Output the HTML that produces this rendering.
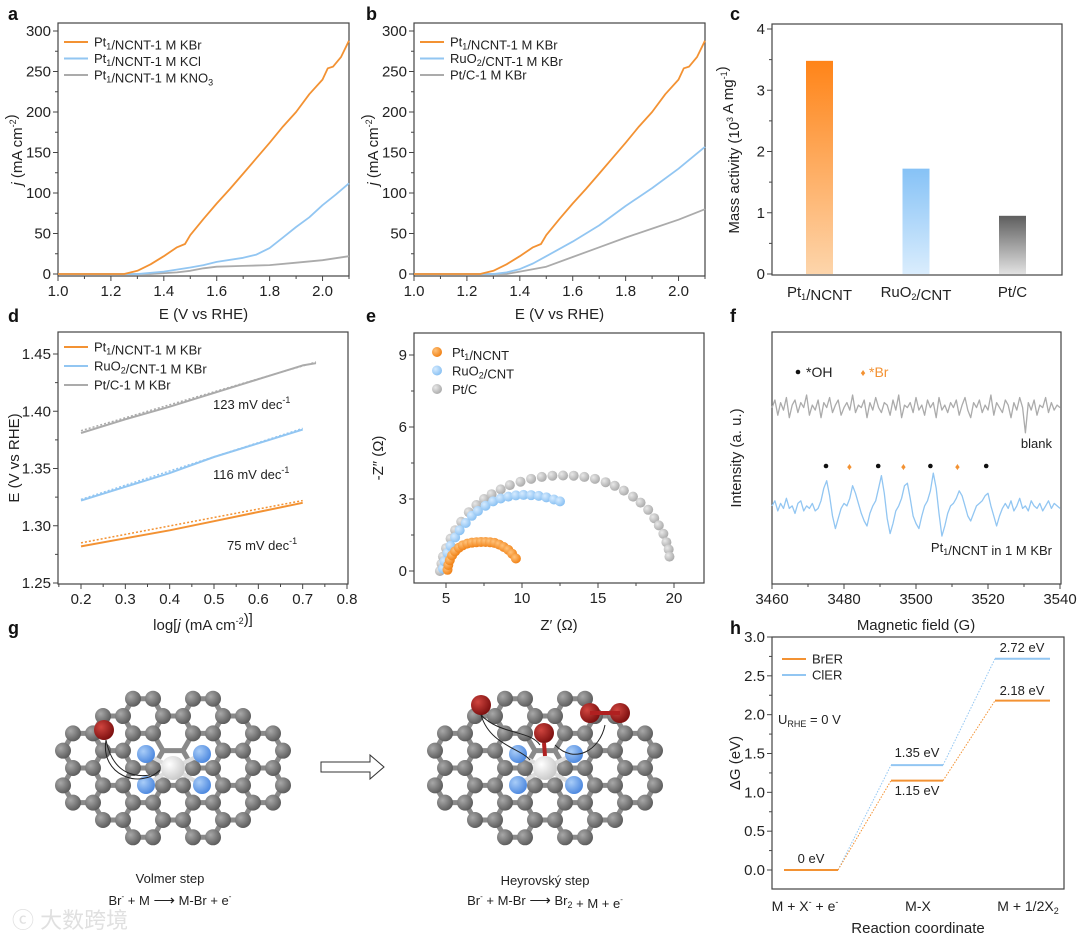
<!DOCTYPE html>
<html><head><meta charset="utf-8"><style>
html,body{margin:0;padding:0;background:#fff}
svg{display:block;font-family:"Liberation Sans","Noto Sans CJK SC",sans-serif}
</style></head><body>
<svg id="fig" width="1080" height="937" viewBox="0 0 1080 937" xmlns="http://www.w3.org/2000/svg">
<defs>
<linearGradient id="gO" x1="0" y1="0" x2="0" y2="1"><stop offset="0" stop-color="#ff8418"/><stop offset="1" stop-color="#fdd5ab"/></linearGradient>
<linearGradient id="gB" x1="0" y1="0" x2="0" y2="1"><stop offset="0" stop-color="#86c2f6"/><stop offset="1" stop-color="#daedfd"/></linearGradient>
<linearGradient id="gG" x1="0" y1="0" x2="0" y2="1"><stop offset="0" stop-color="#5e5e5e"/><stop offset="1" stop-color="#e2e2e2"/></linearGradient>
<radialGradient id="aC" cx="0.35" cy="0.35" r="0.7"><stop offset="0" stop-color="#a8a8a8"/><stop offset="1" stop-color="#5a5a5a"/></radialGradient>
<radialGradient id="aN" cx="0.35" cy="0.35" r="0.7"><stop offset="0" stop-color="#a9cdf8"/><stop offset="1" stop-color="#4a86de"/></radialGradient>
<radialGradient id="aR" cx="0.35" cy="0.35" r="0.7"><stop offset="0" stop-color="#d0453f"/><stop offset="1" stop-color="#7a0e0e"/></radialGradient>
<radialGradient id="aW" cx="0.35" cy="0.35" r="0.7"><stop offset="0" stop-color="#ffffff"/><stop offset="1" stop-color="#c8c8c8"/></radialGradient>
<radialGradient id="mO" cx="0.35" cy="0.35" r="0.7"><stop offset="0" stop-color="#ffc27a"/><stop offset="1" stop-color="#f07f12"/></radialGradient>
<radialGradient id="mB" cx="0.35" cy="0.35" r="0.7"><stop offset="0" stop-color="#d6ebff"/><stop offset="1" stop-color="#86bff2"/></radialGradient>
<radialGradient id="mG" cx="0.35" cy="0.35" r="0.7"><stop offset="0" stop-color="#e8e8e8"/><stop offset="1" stop-color="#a9a9a9"/></radialGradient>
</defs>
</svg>
<script>
// ---------- data ----------
const aKBrE=[1.0,1.1,1.2,1.25,1.3,1.35,1.4,1.45,1.48,1.5,1.55,1.6,1.65,1.7,1.75,1.8,1.85,1.9,1.95,2.0,2.02,2.04,2.07,2.1];
const aKBrJ=[0,0,0,0,4,12,22,33,37,48,68,87,105,124,143,162,182,200,222,240,254,256,268,288];
const aKClE=[1.0,1.2,1.3,1.4,1.5,1.55,1.6,1.7,1.75,1.8,1.85,1.9,1.95,2.0,2.05,2.1];
const aKClJ=[0,0,0,3,8,11,15,20,24,32,45,58,70,85,98,112];
const aKNO3E=[1.0,1.2,1.35,1.45,1.5,1.55,1.6,1.7,1.8,1.9,2.0,2.1];
const aKNO3J=[0,0,0,2,4,7,9,10,11,14,17,22];
const bRuE=[1.0,1.2,1.3,1.35,1.4,1.45,1.5,1.6,1.7,1.8,1.9,2.0,2.1];
const bRuJ=[0,0,0,2,6,13,22,40,60,84,106,130,157];
const bPtCE=[1.0,1.2,1.35,1.4,1.5,1.6,1.7,1.8,1.9,2.0,2.1];
const bPtCJ=[0,0,0,3,9,21,33,45,56,67,80];
const cCats=["Pt1/NCNT","RuO2/CNT","Pt/C"];
const cVals=[3.48,1.72,0.95];
const dLogJ=[0.2,0.3,0.4,0.5,0.6,0.7];
const dPt1=[1.282,1.289,1.296,1.304,1.312,1.320];
const dRuO2=[1.322,1.334,1.346,1.360,1.372,1.384];
const dLogJG=[0.2,0.3,0.4,0.5,0.6,0.7,0.73];
const dPtC=[1.381,1.393,1.404,1.416,1.428,1.440,1.442];
const dFitO=[1.285,1.322], dFitB=[1.323,1.385], dFitG=[1.383,1.443];
const eOx=[5.1,5.15,5.25,5.4,5.6,5.85,6.1,6.4,6.7,7.0,7.3,7.6,7.9,8.2,8.5,8.8,9.1,9.35,9.6];
const eOy=[0.05,0.25,0.45,0.65,0.82,0.97,1.07,1.14,1.18,1.2,1.21,1.21,1.2,1.17,1.1,1.0,0.88,0.72,0.52];
const eBx=[4.8,4.9,5.1,5.3,5.6,5.9,6.3,6.7,7.1,7.6,8.1,8.6,9.1,9.6,10.1,10.6,11.1,11.6,12.1,12.5];
const eBy=[0.1,0.4,0.75,1.05,1.4,1.7,2.0,2.3,2.5,2.72,2.9,3.02,3.1,3.15,3.17,3.16,3.13,3.07,2.98,2.9];
const eGx=[4.6,4.7,4.8,5.0,5.3,5.6,6.0,6.5,7.0,7.5,8.0,8.6,9.2,9.9,10.6,11.3,12.0,12.7,13.4,14.1,14.8,15.5,16.1,16.7,17.3,17.8,18.3,18.7,19.0,19.3,19.5,19.65,19.7];
const eGy=[0,0.3,0.6,0.95,1.35,1.7,2.05,2.45,2.75,3.0,3.2,3.4,3.58,3.72,3.84,3.92,3.97,3.98,3.97,3.92,3.84,3.7,3.55,3.35,3.1,2.85,2.55,2.2,1.9,1.55,1.2,0.9,0.6];
const fBlank=[70,73,67,72,69,74,66,71,73,68,72,70,75,67,71,69,73,66,72,70,74,68,71,73,67,70,72,69,75,68,71,70,73,66,72,69,74,70,68,72,71,67,73,69,75,66,71,70,72,68,74,69,71,67,73,70,72,66,74,69,71,68,72,70,73,67,71,74,69,66,72,70,73,68,71,69,75,67,72,70,68,73,71,66,72,69,74,70,60,72,69,73,67,71,70,74,68,72,69,71,70];
const fPt1=[31,33,29,32,30,34,30,31,28,32,33,29,31,30,32,29,30,33,38,41,35,27,22,26,30,32,31,34,39,36,32,28,25,23,28,31,33,38,43,36,26,20,24,29,31,34,39,40,34,27,24,22,27,31,33,37,44,38,28,19,23,28,31,32,34,37,35,31,27,25,28,31,32,33,35,36,31,27,23,27,30,32,30,33,29,31,34,30,31,29,33,31,30,32,29,31,33,30,32,31,30];
const fOHpos=[3475,3489.5,3504,3519.5];
const fBrpos=[3481.5,3496.5,3511.5];
const hSteps=["M + X⁻ + e⁻","M-X","M + 1/2X2"];
const hBrER=[0,1.15,2.18];
const hClER=[0,1.35,2.72];

// ---------- helpers ----------
const NS="http://www.w3.org/2000/svg";
const svg=document.getElementById('fig');
function mk(tag,attrs,parent){const e=document.createElementNS(NS,tag);for(const k in attrs)e.setAttribute(k,attrs[k]);(parent||svg).appendChild(e);return e;}
function lin(d0,d1,r0,r1){return v=>r0+(v-d0)*(r1-r0)/(d1-d0);}
function txt(x,y,html,size,anchor,parent,extra){const t=mk('text',Object.assign({x:x,y:y,'font-size':size||14,'text-anchor':anchor||'start',fill:'#222'},extra||{}),parent);t.innerHTML=html;return t;}
function grp(name){const g=mk('g',{});return g;}
function frame(g,L,T,R,B){mk('rect',{x:L,y:T,width:R-L,height:B-T,fill:'none',stroke:'#444','stroke-width':1.2},g);}
function xTicks(g,B,sx,ticks,labels,minor,size){ticks.forEach((v,i)=>{mk('line',{x1:sx(v),x2:sx(v),y1:B,y2:B+5,stroke:'#444'},g);txt(sx(v),B+20,labels[i],size||15,'middle',g);});(minor||[]).forEach(v=>mk('line',{x1:sx(v),x2:sx(v),y1:B,y2:B+3,stroke:'#444'},g));}
function yTicks(g,L,sy,ticks,labels,minor,size){ticks.forEach((v,i)=>{mk('line',{x1:L-5,x2:L,y1:sy(v),y2:sy(v),stroke:'#444'},g);txt(L-7,sy(v)+5,labels[i],size||15,'end',g);});(minor||[]).forEach(v=>mk('line',{x1:L-3,x2:L,y1:sy(v),y2:sy(v),stroke:'#444'},g));}
function poly(g,xs,ys,sx,sy,color,w,dash,name){const p=mk('polyline',{points:xs.map((x,i)=>sx(x).toFixed(1)+','+sy(ys[i]).toFixed(1)).join(' '),fill:'none',stroke:color,'stroke-width':w||2,'stroke-linejoin':'round'},g);if(dash)p.setAttribute('stroke-dasharray',dash);return p;}
function range(a,b,s){const r=[];for(let v=a;v<=b+1e-9;v+=s)r.push(+v.toFixed(4));return r;}
function panelLabel(x,y,l){const t=txt(x,y,l,18,'start',svg,{'font-weight':'bold',fill:'#111'});}
function legendLine(g,x,y,color,html,name){const l=mk('line',{x1:x,x2:x+24,y1:y,y2:y,stroke:color,'stroke-width':2},g);txt(x+30,y+4.5,html,13,'start',g);}
const OR='#f39233',BL='#92c6f2',GR='#ababab';
const sub=s=>`<tspan font-size="9" dy="3">${s}</tspan><tspan dy="-3"></tspan>`;
const sup=s=>`<tspan font-size="9" dy="-6">${s}</tspan><tspan dy="6"></tspan>`;

// ---------- panel a & b ----------
function lsvPanel(name,L,labelX,series,legend){
  const g=grp(name);const T=23,R=L+291,B=276;
  const sx=lin(1.0,2.1,L,R), sy=lin(0,300,274,31);
  frame(g,L,T,R,B);
  xTicks(g,B,sx,[1.0,1.2,1.4,1.6,1.8,2.0],['1.0','1.2','1.4','1.6','1.8','2.0'],range(1.1,2.1,0.2));
  yTicks(g,L,sy,[0,50,100,150,200,250,300],['0','50','100','150','200','250','300'],range(25,275,50));
  txt((L+R)/2,319,'E (V vs RHE)',15,'middle',g);
  txt(0,0,'<tspan font-style="italic">j</tspan> (mA cm'+sup('-2')+')',15,'middle',g,{transform:`translate(${L-36},150) rotate(-90)`});
  series.forEach(s=>poly(g,s[0],s[1],sx,sy,s[2],1.8,null,s[3]));
  legend.forEach((e,i)=>legendLine(g,L+6,42+i*16.5,e[0],e[1],e[2]));
  panelLabel(labelX,20,name==='panel-a'?'a':'b');
}
lsvPanel('panel-a',58,8,[[aKNO3E,aKNO3J,GR,'kno3-curve'],[aKClE,aKClJ,BL,'kcl-curve'],[aKBrE,aKBrJ,OR,'kbr-curve']],
 [[OR,'Pt'+sub('1')+'/NCNT-1 M KBr','legend-kbr'],[BL,'Pt'+sub('1')+'/NCNT-1 M KCl','legend-kcl'],[GR,'Pt'+sub('1')+'/NCNT-1 M KNO'+sub('3'),'legend-kno3']]);
lsvPanel('panel-b',414,366,[[bPtCE,bPtCJ,GR,'ptc-curve'],[bRuE,bRuJ,BL,'ruo2-curve'],[aKBrE,aKBrJ,OR,'pt1-curve']],
 [[OR,'Pt'+sub('1')+'/NCNT-1 M KBr','legend-pt1'],[BL,'RuO'+sub('2')+'/CNT-1 M KBr','legend-ruo2'],[GR,'Pt/C-1 M KBr','legend-ptc']]);

// ---------- panel c ----------
(function(){const g=grp('panel-c');const L=772,T=24,R=1062,B=275;
 const sy=lin(0,4,274,29);const cx=[819.5,916,1012.5];const fills=['url(#gO)','url(#gB)','url(#gG)'];
 frame(g,L,T,R,B);
 yTicks(g,L,sy,[0,1,2,3,4],['0','1','2','3','4'],[0.5,1.5,2.5,3.5]);
 cVals.forEach((v,i)=>{const r=mk('rect',{x:cx[i]-13.5,y:sy(v),width:27,height:sy(0)-sy(v),fill:fills[i]},g);});
 const labs=['Pt'+sub('1')+'/NCNT','RuO'+sub('2')+'/CNT','Pt/C'];
 cCats.forEach((c,i)=>txt(cx[i],297,labs[i],15,'middle',g));
 txt(0,0,'Mass activity (10'+sup('3')+' A mg'+sup('-1')+')',15,'middle',g,{transform:'translate(739,150) rotate(-90)'});
 panelLabel(730,20,'c');})();

// ---------- panel d ----------
(function(){const g=grp('panel-d');const L=58,T=332,R=348,B=584;
 const sx=lin(0.2,0.8,81,347), sy=lin(1.25,1.45,583,354);
 frame(g,L,T,R,B);
 xTicks(g,B,sx,[0.2,0.3,0.4,0.5,0.6,0.7,0.8],['0.2','0.3','0.4','0.5','0.6','0.7','0.8'],range(0.15,0.75,0.1));
 yTicks(g,L,sy,[1.25,1.30,1.35,1.40,1.45],['1.25','1.30','1.35','1.40','1.45'],[1.275,1.325,1.375,1.425]);
 txt(203,630,'log[<tspan font-style="italic">j</tspan> (mA cm'+sup('-2')+')]',15,'middle',g);
 txt(0,0,'E (V vs RHE)',15,'middle',g,{transform:'translate(19,458) rotate(-90)'});
 poly(g,[0.2,0.7],dFitO,sx,sy,OR,1.5,'2,2','fit-pt1');
 poly(g,[0.2,0.7],dFitB,sx,sy,BL,1.5,'2,2','fit-ruo2');
 poly(g,[0.2,0.73],dFitG,sx,sy,GR,1.5,'2,2','fit-ptc');
 poly(g,dLogJ,dPt1,sx,sy,OR,2,null,'tafel-pt1');
 poly(g,dLogJ,dRuO2,sx,sy,BL,2,null,'tafel-ruo2');
 poly(g,dLogJG,dPtC,sx,sy,GR,2,null,'tafel-ptc');
 legendLine(g,64,347,OR,'Pt'+sub('1')+'/NCNT-1 M KBr','legend-pt1');
 legendLine(g,64,366,BL,'RuO'+sub('2')+'/CNT-1 M KBr','legend-ruo2');
 legendLine(g,64,385,GR,'Pt/C-1 M KBr','legend-ptc');
 txt(213,409,'123 mV dec'+sup('-1'),13,'start',g);
 txt(213,479,'116 mV dec'+sup('-1'),13,'start',g);
 txt(227,550,'75 mV dec'+sup('-1'),13,'start',g);
 panelLabel(8,322,'d');})();

// ---------- panel e ----------
(function(){const g=grp('panel-e');const L=414,T=333,R=704,B=583;
 const sx=lin(5,20,446,674), sy=lin(0,9,571,355);
 frame(g,L,T,R,B);
 xTicks(g,B,sx,[5,10,15,20],['5','10','15','20'],[7.5,12.5,17.5]);
 yTicks(g,L,sy,[0,3,6,9],['0','3','6','9'],[1.5,4.5,7.5]);
 txt(559,630,"Z′ (Ω)",15,'middle',g);
 txt(0,0,"-Z″ (Ω)",15,'middle',g,{transform:'translate(383,458) rotate(-90)'});
 [[eGx,eGy,'url(#mG)','eis-ptc'],[eBx,eBy,'url(#mB)','eis-ruo2'],[eOx,eOy,'url(#mO)','eis-pt1']].forEach(s=>{
   const sg=mk('g',{},g);
   s[0].forEach((x,i)=>mk('circle',{cx:sx(x),cy:sy(s[1][i]),r:5,fill:s[2]},sg));});
 [['url(#mO)','Pt'+sub('1')+'/NCNT'],['url(#mB)','RuO'+sub('2')+'/CNT'],['url(#mG)','Pt/C']].forEach((e,i)=>{
   const c=mk('circle',{cx:437,cy:352+i*18.5,r:5,fill:e[0]},g);
   txt(452,357+i*18.5,e[1],13,'start',g);});
 panelLabel(366,322,'e');})();

// ---------- panel f ----------
(function(){const g=grp('panel-f');const L=772,T=332,R=1061,B=584;
 const sx=lin(3460,3540,772,1060), sy=lin(0,100,584,332);
 frame(g,L,T,R,B);
 xTicks(g,B,sx,[3460,3480,3500,3520,3540],['3460','3480','3500','3520','3540'],[3470,3490,3510,3530]);
 txt(916,630,'Magnetic field (G)',15,'middle',g);
 txt(0,0,'Intensity (a. u.)',15,'middle',g,{transform:'translate(741,458) rotate(-90)'});
 const idx=a=>a.map((_,i)=>3460+80*i/(a.length-1));
 poly(g,idx(fBlank),fBlank,sx,sy,GR,1.3,null,'epr-blank');
 poly(g,idx(fPt1),fPt1,sx,sy,BL,1.3,null,'epr-pt1');
 fOHpos.forEach(p=>mk('circle',{cx:sx(p),cy:466,r:2.3,fill:'#111'},g));
 fBrpos.forEach(p=>txt(sx(p),470,'♦',10,'middle',g,{fill:OR}));
 mk('circle',{cx:798,cy:372,r:2.3,fill:'#111'},g);txt(806,377,'*OH',14,'start',g);
 txt(863,376,'♦',10,'middle',g,{fill:OR});txt(869,377,'*Br',14,'start',g,{fill:OR});
 txt(1052,448,'blank',13,'end',g);
 txt(1052,552,'Pt'+sub('1')+'/NCNT in 1 M KBr',13,'end',g);
 panelLabel(730,322,'f');})();

// ---------- panel h ----------
(function(){const g=grp('panel-h');const L=772,T=637,R=1064,B=889;
 const sy=lin(0,3,870,637);const xs=[[784,838],[891,943],[995,1050]];
 frame(g,L,T,R,B);
 yTicks(g,L,sy,[0,0.5,1,1.5,2,2.5,3],['0.0','0.5','1.0','1.5','2.0','2.5','3.0'],[0.25,0.75,1.25,1.75,2.25,2.75]);
 txt(0,0,'ΔG (eV)',15,'middle',g,{transform:'translate(740,763) rotate(-90)'});
 txt(918,933,'Reaction coordinate',15,'middle',g);
 const cl=['M + X<tspan font-size="9" dy="-6">-</tspan><tspan dy="6"> + e</tspan><tspan font-size="9" dy="-6">-</tspan>','M-X','M + 1/2X'+sub('2')];
 [805,918,1028].forEach((x,i)=>txt(x,911,cl[i],14,'middle',g));
 [[hClER,BL,'clER'],[hBrER,OR,'brER']].forEach(s=>{
   for(let i=0;i<2;i++){const d=mk('line',{x1:xs[i][1],y1:sy(s[0][i]),x2:xs[i+1][0],y2:sy(s[0][i+1]),stroke:s[1],'stroke-width':1,'stroke-dasharray':'1.5,1.5'},g);}
   s[0].forEach((v,i)=>{if(s[2]==='clER'&&i===0)return;const l=mk('line',{x1:xs[i][0],x2:xs[i][1],y1:sy(v),y2:sy(v),stroke:s[1],'stroke-width':2},g);});});
 txt(811,863,hBrER[0]+' eV',13,'middle',g);
 txt(917,757,hClER[1].toFixed(2)+' eV',13,'middle',g);
 txt(917,795,hBrER[1].toFixed(2)+' eV',13,'middle',g);
 txt(1022,652,hClER[2].toFixed(2)+' eV',13,'middle',g);
 txt(1022,695,hBrER[2].toFixed(2)+' eV',13,'middle',g);
 legendLine(g,782,659,OR,'BrER','legend-brer');legendLine(g,782,675,BL,'ClER','legend-cler');
 txt(778,724,'U<tspan font-size="9" dy="3">RHE</tspan><tspan dy="-3"> = 0 V</tspan>',13,'start',g);
 panelLabel(730,634,'h');})();

// ---------- panel g (illustration) ----------
(function(){const g=grp('panel-g');panelLabel(8,634,'g');
 function mol(cx,cy,name,reds){const m=mk('g',{},g);
  const a=20,h=a*Math.sqrt(3)/2;const atoms=[];
  for(let c=-10;c<=10;c++)for(let r=-6;r<=6;r++){
    const baseX=c*1.5*a, baseY=r*2*h+((c%2+2)%2)*h;
    [[-a/2,-h],[a/2,-h]].forEach(o=>{const x=cx+baseX+o[0],y=cy+baseY+o[1];
      if(((x-cx)/130)**2+((y-cy)/82)**2<=1&&!atoms.some(p=>Math.hypot(p[0]-x,p[1]-y)<2))atoms.push([x,y]);});}
  atoms.forEach((p,i)=>atoms.forEach((q,j)=>{if(j>i&&Math.abs(Math.hypot(p[0]-q[0],p[1]-q[1])-a)<1)mk('line',{x1:p[0],y1:p[1],x2:q[0],y2:q[1],stroke:'#8a8a8a','stroke-width':5},m);}));
  const special=[[-27,-14],[29,-14],[-27,17],[29,17]];
  atoms.forEach(p=>{if(Math.hypot(p[0]-cx,p[1]-cy)<20)return;const isN=special.some(s=>Math.hypot(p[0]-cx-s[0],p[1]-cy-s[1])<10);if(isN)return;mk('circle',{cx:p[0],cy:p[1],r:8,fill:'url(#aC)'},m);});
  special.forEach(s=>{mk('line',{x1:cx,y1:cy,x2:cx+s[0],y2:cy+s[1],stroke:'#ddd','stroke-width':4},m);mk('circle',{cx:cx+s[0],cy:cy+s[1],r:9,fill:'url(#aN)'},m);});
  mk('circle',{cx:cx,cy:cy,r:12,fill:'url(#aW)'},m);
  reds.forEach(r=>mk('circle',{cx:r[0],cy:r[1],r:10,fill:'url(#aR)'},m));
  return m;}
 const m1=mol(173,768,'volmer-structure',[[104,730]]);
 mk('path',{d:'M106,740 C112,770 130,778 150,775',fill:'none',stroke:'#222','stroke-width':1},m1);
 mk('path',{d:'M106,740 C100,775 140,790 160,770',fill:'none',stroke:'#222','stroke-width':1},m1);
 const m2=mol(545,768,'heyrovsky-structure',[[481,705],[544,733],[590,713],[620,713]]);
 mk('line',{x1:544,y1:743,x2:545,y2:756,stroke:'#b02020','stroke-width':4},m2);
 mk('line',{x1:590,y1:713,x2:620,y2:713,stroke:'#b02020','stroke-width':4},m2);
 mk('path',{d:'M481,715 C490,745 520,748 530,760',fill:'none',stroke:'#222','stroke-width':1},m2);
 mk('path',{d:'M481,715 C500,735 530,730 540,745',fill:'none',stroke:'#222','stroke-width':1},m2);
 mk('path',{d:'M555,745 C575,765 600,750 605,725',fill:'none',stroke:'#222','stroke-width':1},m2);
 const ar=mk('path',{d:'M321,762 L370,762 L370,755 L384,767 L370,779 L370,772 L321,772 Z',fill:'#fff',stroke:'#333','stroke-width':1},g);
 
 txt(170,883,'Volmer step',13,'middle',g);
 txt(170,905,'Br<tspan font-size="8" dy="-6">-</tspan><tspan dy="6"> + M </tspan><tspan font-size="15">⟶</tspan> M-Br + e<tspan font-size="8" dy="-6">-</tspan>',13,'middle',g);
 txt(545,885,'Heyrovský step',13,'middle',g);
 txt(545,905,'Br<tspan font-size="8" dy="-6">-</tspan><tspan dy="6"> + M-Br </tspan><tspan font-size="15">⟶</tspan> Br'+sub('2')+'  + M + e<tspan font-size="8" dy="-6">-</tspan>',13,'middle',g);
 const wm=txt(12,928,'ⓒ 大数跨境',22,'start',g,{fill:'#e0e0e0'});
})();
</script>
</body></html>
